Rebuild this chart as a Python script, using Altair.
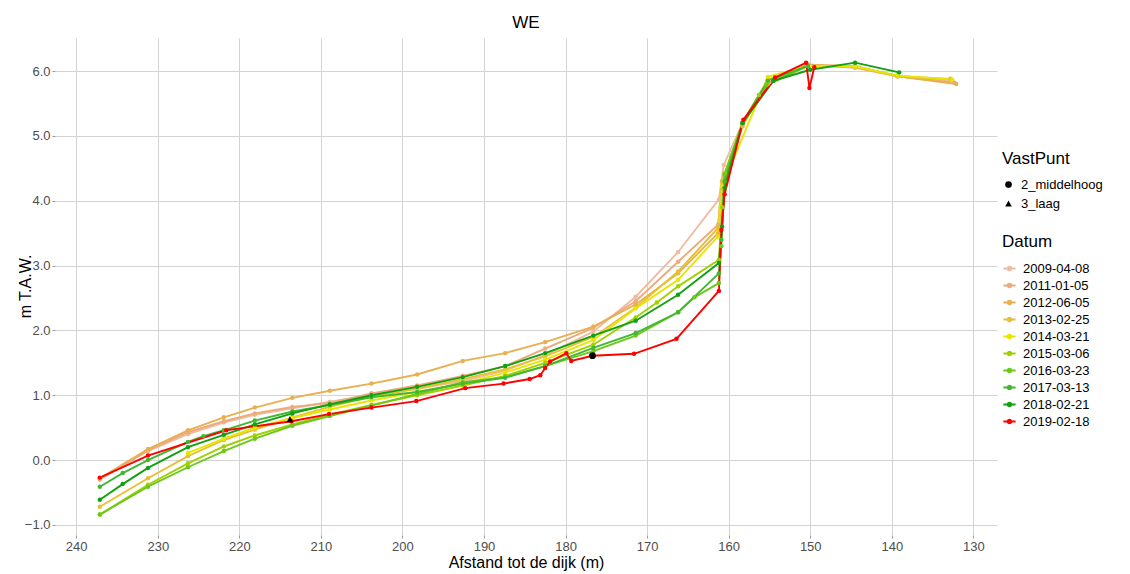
import altair as alt
import pandas as pd

dates = ["2009-04-08", "2011-01-05", "2012-06-05", "2013-02-25", "2014-03-21",
         "2015-03-06", "2016-03-23", "2017-03-13", "2018-02-21", "2019-02-18"]
colors = ["#F0BCA0", "#EDAB7C", "#E8B050", "#E8C030", "#E6E600",
          "#A0D000", "#6CC81C", "#40B830", "#10A010", "#FF0000"]

x_2009 = [237.1, 231.2, 226.3, 221.9, 218.1, 213.5, 208.9, 203.8, 198.2, 192.6, 187.4, 182.5,
          176.6, 171.4, 166.2, 161.2, 160.6, 158.3, 155.2, 150.3, 144.5, 139.3, 132.6]
y_2009 = [-0.28, 0.14, 0.40, 0.58, 0.70, 0.80, 0.90, 1.00, 1.10, 1.22, 1.38, 1.62,
          1.98, 2.52, 3.21, 4.02, 4.55, 5.20, 5.85, 6.08, 6.06, 5.93, 5.85]

x_2011 = [237.1, 231.2, 226.3, 221.9, 218.1, 213.5, 208.9, 203.8, 198.2, 192.6, 187.4, 182.5,
          176.6, 171.4, 166.2, 161.3, 160.8, 158.3, 155.0, 150.3, 144.5, 139.3, 132.3]
y_2011 = [-0.30, 0.15, 0.43, 0.60, 0.72, 0.82, 0.88, 1.03, 1.15, 1.30, 1.45, 1.72,
          2.04, 2.45, 3.06, 3.63, 4.30, 5.18, 5.83, 6.10, 6.05, 5.92, 5.82]

x_2012 = [237.1, 231.2, 226.3, 221.9, 218.1, 213.5, 208.9, 203.8, 198.2, 192.6, 187.4, 182.5,
          176.6, 171.4, 166.2, 161.3, 160.8, 158.3, 155.2, 150.3, 144.5, 139.3, 132.1]
y_2012 = [-0.28, 0.17, 0.46, 0.66, 0.81, 0.96, 1.07, 1.18, 1.32, 1.53, 1.65, 1.82,
          2.06, 2.40, 2.88, 3.50, 4.20, 5.15, 5.85, 6.10, 6.08, 5.92, 5.80]

x_2013 = [237.1, 231.2, 226.3, 221.9, 218.1, 213.5, 208.9, 203.8, 198.2, 192.6, 187.4, 182.5,
          176.6, 171.4, 166.2, 161.3, 160.8, 158.3, 155.2, 150.3, 144.5, 139.3, 132.8]
y_2013 = [-0.72, -0.28, 0.06, 0.31, 0.47, 0.66, 0.82, 0.98, 1.10, 1.25, 1.40, 1.60,
          1.90, 2.35, 2.91, 3.58, 4.30, 5.20, 5.87, 6.08, 6.07, 5.92, 5.88]

x_2014 = [226.3, 221.9, 218.1, 213.5, 208.9, 203.8, 198.2, 192.6, 187.4, 182.5, 176.6,
          171.4, 166.2, 161.3, 161.0, 160.8, 155.2, 150.3, 144.5, 139.3, 132.6]
y_2014 = [0.11, 0.33, 0.50, 0.65, 0.78, 0.92, 1.05, 1.18, 1.35, 1.55, 1.85,
          2.34, 2.78, 3.45, 3.90, 4.22, 5.91, 6.08, 6.07, 5.93, 5.87]

x_2015 = [237.1, 231.2, 226.3, 221.9, 218.1, 213.5, 208.9, 203.8, 198.2, 192.6, 187.4, 182.5,
          176.6, 171.4, 168.8, 166.2, 161.2, 160.8, 160.5, 158.3, 156.3, 155.2, 150.3]
y_2015 = [-0.84, -0.38, -0.05, 0.21, 0.38, 0.55, 0.70, 0.85, 1.00, 1.15, 1.30, 1.50,
          1.78, 2.20, 2.43, 2.68, 3.09, 3.90, 4.42, 5.20, 5.63, 5.80, 6.08]

x_2016 = [237.1, 231.2, 226.3, 221.9, 218.1, 213.5, 208.9, 203.8, 198.2, 192.6, 187.4, 182.5,
          176.6, 171.4, 166.2, 164.2, 161.2, 160.9, 160.5, 158.3, 155.4, 150.3]
y_2016 = [-0.84, -0.41, -0.11, 0.14, 0.33, 0.53, 0.68, 0.84, 1.02, 1.20, 1.28, 1.45,
          1.68, 1.92, 2.28, 2.51, 2.73, 3.30, 4.40, 5.20, 5.78, 6.08]

x_2017 = [237.1, 234.3, 231.2, 226.3, 224.4, 221.9, 218.1, 213.5, 208.9, 203.8, 198.2, 192.6,
          187.4, 182.5, 176.6, 171.4, 166.2, 161.2, 160.9, 160.5, 158.3, 155.2, 150.3]
y_2017 = [-0.41, -0.20, 0.00, 0.28, 0.37, 0.46, 0.61, 0.75, 0.85, 0.97, 1.05, 1.18,
          1.27, 1.45, 1.73, 1.96, 2.28, 2.88, 3.40, 4.30, 5.20, 5.85, 6.08]

x_2018 = [237.1, 234.3, 231.2, 226.3, 221.9, 218.1, 213.5, 208.9, 203.8, 198.2, 192.6, 187.4,
          182.5, 176.6, 171.4, 166.2, 161.2, 160.8, 160.5, 158.3, 154.5, 150.0, 144.5, 139.1]
y_2018 = [-0.61, -0.37, -0.12, 0.20, 0.39, 0.55, 0.72, 0.86, 1.00, 1.13, 1.28, 1.45,
          1.65, 1.92, 2.15, 2.55, 3.04, 3.60, 4.20, 5.20, 5.85, 6.02, 6.13, 5.98]

x_2019 = [237.1, 231.2, 221.6, 213.6, 209.0, 203.8, 198.3, 192.3, 187.6, 184.4, 183.1, 182.5,
          181.9, 179.9, 179.3, 176.7, 171.6, 166.4, 161.2, 160.9, 160.5, 158.2, 154.3, 150.5,
          150.1, 149.5]
y_2019 = [-0.27, 0.07, 0.46, 0.60, 0.71, 0.81, 0.91, 1.11, 1.18, 1.25, 1.31, 1.42,
          1.52, 1.65, 1.53, 1.61, 1.64, 1.87, 2.61, 3.55, 4.10, 5.25, 5.90, 6.13,
          5.74, 6.06]

vast_names = ["2_middelhoog", "3_laag"]
vast_x = [176.7, 213.8]
vast_y = [1.61, 0.63]

series_x = [x_2009, x_2011, x_2012, x_2013, x_2014, x_2015, x_2016, x_2017, x_2018, x_2019]
series_y = [y_2009, y_2011, y_2012, y_2013, y_2014, y_2015, y_2016, y_2017, y_2018, y_2019]

rows = []
for d, xs, ys in zip(dates, series_x, series_y):
    for xv, yv in zip(xs, ys):
        rows.append({"Datum": d, "afstand": xv, "hoogte": yv})
df = pd.DataFrame(rows)
vp = pd.DataFrame({"VastPunt": vast_names, "afstand": vast_x, "hoogte": vast_y})

x_ticks = list(range(130, 250, 10))
y_ticks = [-1.0 + 0.5 * i for i in range(15)]

xscale = alt.Scale(domain=[127.1, 242.6], reverse=True, nice=False, zero=False)
yscale = alt.Scale(domain=[-1.155, 6.51], nice=False, zero=False)

xaxis = alt.Axis(title="Afstand tot de dijk (m)", values=x_ticks, format="d",
                 titlePadding=1, labelPadding=2)
yaxis = alt.Axis(title="m T.A.W.", values=y_ticks, format=".1f",
                 titleX=-30, titleY=248, titleBaseline="middle", titleAlign="center")

line_sym = "M-1,0L1,0M-0.3,0A0.3,0.3,0,1,1,0.3,0A0.3,0.3,0,1,1,-0.3,0Z"

lines = alt.Chart(df).mark_line(
    strokeWidth=1.9,
    point=alt.OverlayMarkDef(size=20, filled=True, opacity=1),
).encode(
    x=alt.X("afstand:Q", scale=xscale, axis=xaxis),
    y=alt.Y("hoogte:Q", scale=yscale, axis=yaxis),
    color=alt.Color(
        "Datum:N",
        scale=alt.Scale(domain=dates, range=colors),
        sort=dates,
        legend=alt.Legend(
            orient="none", legendX=947, legendY=196,
            title="Datum", symbolType=line_sym, symbolSize=150,
            symbolStrokeWidth=2, rowPadding=2, titlePadding=10,
            labelOffset=6,
        ),
    ),
    detail="Datum:N",
)

points = alt.Chart(vp).mark_point(filled=True, size=45, color="black", opacity=1).encode(
    x=alt.X("afstand:Q", scale=xscale),
    y=alt.Y("hoogte:Q", scale=yscale),
    shape=alt.Shape(
        "VastPunt:N",
        scale=alt.Scale(domain=vast_names, range=["circle", "triangle-up"]),
        legend=alt.Legend(
            orient="none", legendX=947, legendY=113,
            title="VastPunt", symbolSize=45, symbolFillColor="black",
            symbolStrokeColor="black", rowPadding=5, titlePadding=10,
            labelOffset=6,
        ),
    ),
)

chart = alt.layer(lines, points).properties(
    width=942, height=497,
    title=alt.Title("WE", fontSize=17, fontWeight="normal", anchor="middle",
                    font="Liberation Sans", color="black", offset=6),
    autosize=alt.AutoSizeParams(type="none"),
    padding={"left": 47, "top": 30, "right": 125, "bottom": 37},
).configure_view(
    stroke=None
).configure_axis(
    grid=True, gridColor="#D3D3D3", gridWidth=1,
    domain=False, tickColor="#9A9A9A", tickSize=3, tickWidth=1,
    labelFont="Liberation Sans", labelFontSize=13, labelColor="#4D4D4D",
    labelPadding=2,
    titleFont="Liberation Sans", titleFontSize=16, titleFontWeight="normal",
    titleColor="black",
).configure_legend(
    titleFont="Liberation Sans", titleFontSize=17, titleFontWeight="normal",
    titleColor="black", labelFont="Liberation Sans", labelFontSize=13,
    labelColor="black",
)

chart.save("out.html", embed_options={"renderer": "svg", "actions": False})
